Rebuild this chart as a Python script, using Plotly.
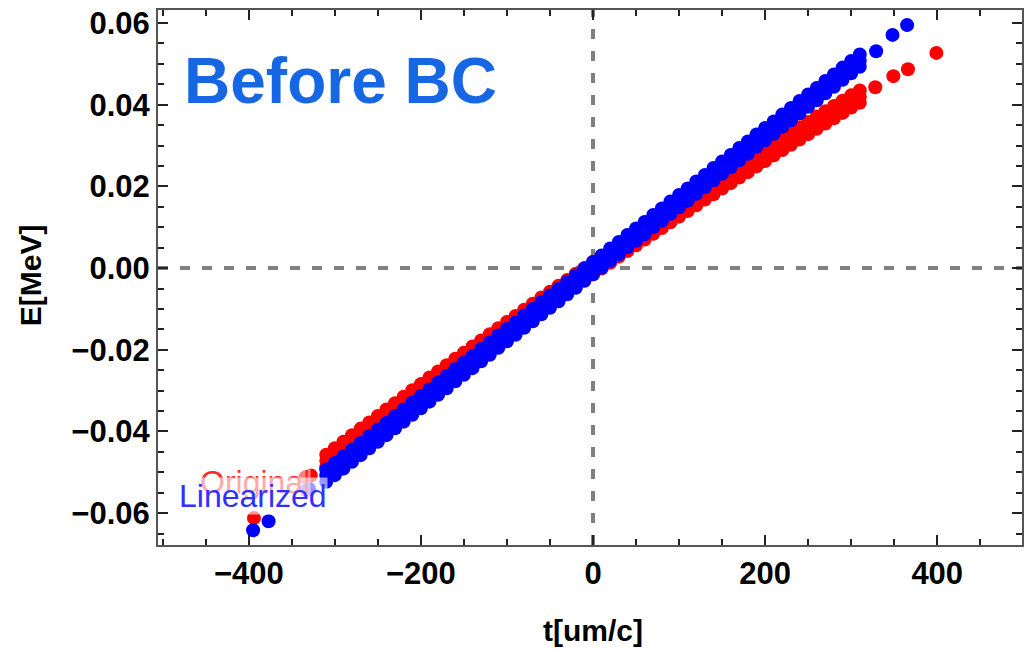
import plotly.graph_objects as go

# Sample times t [um/c] for the dense part of the bunch
t_core = [-310, -300, -290, -280, -270, -260, -250, -240, -230, -220, -210,
          -200, -190, -180, -170, -160, -150, -140, -130, -120, -110,
          -100, -90, -80, -70, -60, -50, -40, -30, -20, -10,
          0, 10, 20, 30, 40, 50, 60, 70, 80, 90,
          100, 110, 120, 130, 140, 150, 160, 170, 180, 190,
          200, 210, 220, 230, 240, 250, 260, 270, 280, 290, 300, 310]

# Original: upper, middle and lower rows of the energy band [MeV]
orig_hi = [-0.0457, -0.0441, -0.0425, -0.0409, -0.0393, -0.0378, -0.0362, -0.0346, -0.0331, -0.0315, -0.0299,
           -0.0284, -0.0268, -0.0253, -0.0238, -0.0222, -0.0207, -0.0192, -0.0177, -0.0162, -0.0147,
           -0.0132, -0.0117, -0.0102, -0.0087, -0.0072, -0.0058, -0.0043, -0.0029, -0.0014, 0.0000,
           0.0015, 0.0029, 0.0043, 0.0058, 0.0072, 0.0086, 0.0100, 0.0114, 0.0128, 0.0142,
           0.0156, 0.0170, 0.0184, 0.0198, 0.0211, 0.0225, 0.0238, 0.0252, 0.0265, 0.0279,
           0.0292, 0.0306, 0.0319, 0.0332, 0.0345, 0.0358, 0.0371, 0.0384, 0.0397, 0.0410, 0.0423, 0.0435]
orig_mid = [-0.0472, -0.0456, -0.0440, -0.0424, -0.0408, -0.0393, -0.0377, -0.0361, -0.0346, -0.0330, -0.0314,
            -0.0299, -0.0283, -0.0268, -0.0253, -0.0237, -0.0222, -0.0207, -0.0192, -0.0177, -0.0162,
            -0.0147, -0.0132, -0.0117, -0.0102, -0.0087, -0.0073, -0.0058, -0.0044, -0.0029, -0.0015,
            0.0000, 0.0014, 0.0028, 0.0043, 0.0057, 0.0071, 0.0085, 0.0099, 0.0113, 0.0127,
            0.0141, 0.0155, 0.0169, 0.0183, 0.0196, 0.0210, 0.0223, 0.0237, 0.0250, 0.0264,
            0.0277, 0.0291, 0.0304, 0.0317, 0.0330, 0.0343, 0.0356, 0.0369, 0.0382, 0.0395, 0.0408, 0.0420]
orig_lo = [-0.0487, -0.0471, -0.0455, -0.0439, -0.0423, -0.0408, -0.0392, -0.0376, -0.0361, -0.0345, -0.0329,
           -0.0314, -0.0298, -0.0283, -0.0268, -0.0252, -0.0237, -0.0222, -0.0207, -0.0192, -0.0177,
           -0.0162, -0.0147, -0.0132, -0.0117, -0.0102, -0.0088, -0.0073, -0.0059, -0.0044, -0.0030,
           -0.0015, -0.0001, 0.0013, 0.0028, 0.0042, 0.0056, 0.0070, 0.0084, 0.0098, 0.0112,
           0.0126, 0.0140, 0.0154, 0.0168, 0.0181, 0.0195, 0.0208, 0.0222, 0.0235, 0.0249,
           0.0262, 0.0276, 0.0289, 0.0302, 0.0315, 0.0328, 0.0341, 0.0354, 0.0367, 0.0380, 0.0393, 0.0405]
# Original: isolated particles in the head and tail
orig_tail_t = [-394, -334, -328, 328, 349, 366, 399]
orig_tail_e = [-0.0612, -0.0512, -0.0508, 0.0443, 0.0470, 0.0487, 0.0527]

# Linearized: upper, middle and lower rows of the energy band [MeV]
lin_hi = [-0.0493, -0.0477, -0.0461, -0.0444, -0.0428, -0.0411, -0.0395, -0.0379, -0.0362, -0.0346, -0.0329,
          -0.0313, -0.0297, -0.0280, -0.0264, -0.0247, -0.0231, -0.0215, -0.0198, -0.0182, -0.0165,
          -0.0149, -0.0133, -0.0116, -0.0100, -0.0083, -0.0067, -0.0051, -0.0034, -0.0018, -0.0001,
          0.0015, 0.0031, 0.0048, 0.0064, 0.0081, 0.0097, 0.0113, 0.0130, 0.0146, 0.0163,
          0.0179, 0.0195, 0.0212, 0.0228, 0.0245, 0.0261, 0.0277, 0.0294, 0.0310, 0.0327,
          0.0343, 0.0359, 0.0376, 0.0392, 0.0409, 0.0425, 0.0441, 0.0458, 0.0474, 0.0491, 0.0507, 0.0523]
lin_mid = [-0.0508, -0.0492, -0.0476, -0.0459, -0.0443, -0.0426, -0.0410, -0.0394, -0.0377, -0.0361, -0.0344,
           -0.0328, -0.0312, -0.0295, -0.0279, -0.0262, -0.0246, -0.0230, -0.0213, -0.0197, -0.0180,
           -0.0164, -0.0148, -0.0131, -0.0115, -0.0098, -0.0082, -0.0066, -0.0049, -0.0033, -0.0016,
           0.0000, 0.0016, 0.0033, 0.0049, 0.0066, 0.0082, 0.0098, 0.0115, 0.0131, 0.0148,
           0.0164, 0.0180, 0.0197, 0.0213, 0.0230, 0.0246, 0.0262, 0.0279, 0.0295, 0.0312,
           0.0328, 0.0344, 0.0361, 0.0377, 0.0394, 0.0410, 0.0426, 0.0443, 0.0459, 0.0476, 0.0492, 0.0508]
lin_lo = [-0.0523, -0.0507, -0.0491, -0.0474, -0.0458, -0.0441, -0.0425, -0.0409, -0.0392, -0.0376, -0.0359,
          -0.0343, -0.0327, -0.0310, -0.0294, -0.0277, -0.0261, -0.0245, -0.0228, -0.0212, -0.0195,
          -0.0179, -0.0163, -0.0146, -0.0130, -0.0113, -0.0097, -0.0081, -0.0064, -0.0048, -0.0031,
          -0.0015, 0.0001, 0.0018, 0.0034, 0.0051, 0.0067, 0.0083, 0.0100, 0.0116, 0.0133,
          0.0149, 0.0165, 0.0182, 0.0198, 0.0215, 0.0231, 0.0247, 0.0264, 0.0280, 0.0297,
          0.0313, 0.0329, 0.0346, 0.0362, 0.0379, 0.0395, 0.0411, 0.0428, 0.0444, 0.0461, 0.0477, 0.0493]
# Linearized: isolated particles in the head and tail
lin_tail_t = [-395, -377, -333, -330, 329, 348, 365, 400]
lin_tail_e = [-0.0642, -0.0620, -0.0544, -0.0541, 0.0531, 0.0571, 0.0595, 0.0645]

RED = "#ff0000"
BLUE = "#0000ff"
MSIZE = 14

fig = go.Figure()

orig_t = t_core * 3 + orig_tail_t
orig_e = orig_hi + orig_mid + orig_lo + orig_tail_e
lin_t = t_core * 3 + lin_tail_t
lin_e = lin_hi + lin_mid + lin_lo + lin_tail_e

fig.add_trace(go.Scatter(x=orig_t, y=orig_e, mode="markers", name="Original",
                         marker=dict(color=RED, size=MSIZE, line=dict(width=0)),
                         cliponaxis=False, showlegend=False))
fig.add_trace(go.Scatter(x=lin_t, y=lin_e, mode="markers", name="Linearized",
                         marker=dict(color=BLUE, size=MSIZE, line=dict(width=0)),
                         cliponaxis=False, showlegend=False))

tick_font = dict(family="Liberation Sans, Arial, sans-serif", size=31, color="black", weight="bold")

fig.update_xaxes(range=[-505.5, 498.5], dtick=200, tick0=0,
                 ticks="inside", ticklen=10, tickwidth=2, tickcolor="#222222",
                 minor=dict(dtick=50, ticks="inside", ticklen=6, tickwidth=2, tickcolor="#222222", showgrid=False),
                 showline=True, linecolor="#555555", linewidth=2, mirror="allticks",
                 showgrid=False, zeroline=False, tickfont=tick_font)
fig.update_yaxes(range=[-0.0678, 0.0632], dtick=0.02, tick0=0, tickformat=".2f",
                 ticks="inside", ticklen=10, tickwidth=2, tickcolor="#222222",
                 minor=dict(dtick=0.005, ticks="inside", ticklen=6, tickwidth=2, tickcolor="#222222", showgrid=False),
                 showline=True, linecolor="#555555", linewidth=2, mirror="allticks",
                 showgrid=False, zeroline=False, tickfont=tick_font)

# Dashed reference lines through the origin
dash_line = dict(color="#808080", width=4, dash="10px,12px")
fig.add_shape(type="line", xref="x", yref="paper", x0=0, x1=0, y0=0, y1=1, line=dash_line, layer="below")
fig.add_shape(type="line", xref="paper", yref="y", x0=0, x1=1, y0=0, y1=0, line=dash_line, layer="below")

label_font = dict(family="Liberation Sans, Arial, sans-serif", size=30, color="black", weight="bold")
annotations = [
    dict(text="t[um/c]", xref="paper", yref="paper", x=0.5035, y=-0.159,
         xanchor="center", yanchor="middle", showarrow=False, font=label_font),
    dict(text="E[MeV]", xref="paper", yref="paper", x=-0.1467, y=0.5047, textangle=-90,
         xanchor="center", yanchor="middle", showarrow=False, font=label_font),
    dict(text="Before BC", xref="x", yref="y", x=-478, y=0.0457,
         xanchor="left", yanchor="middle", showarrow=False,
         font=dict(family="Liberation Sans, Arial, sans-serif", size=64, color="#1767e5", weight="bold")),
    dict(text="Original", xref="x", yref="y", x=-458, y=-0.0524,
         xanchor="left", yanchor="middle", showarrow=False, borderpad=0,
         bgcolor="rgba(255,255,255,0.5)",
         font=dict(family="Liberation Sans, Arial, sans-serif", size=32, color="#ff2a2a")),
    dict(text="Linearized", xref="x", yref="y", x=-482, y=-0.0557,
         xanchor="left", yanchor="middle", showarrow=False, borderpad=0,
         bgcolor="rgba(255,255,255,0.6)",
         font=dict(family="Liberation Sans, Arial, sans-serif", size=32, color="#3030ff")),
]

fig.update_layout(width=1026, height=650, margin=dict(l=158, r=2, t=10, b=105),
                  plot_bgcolor="white", paper_bgcolor="white", annotations=annotations)

fig.write_html("out.html", config={"displayModeBar": False})
